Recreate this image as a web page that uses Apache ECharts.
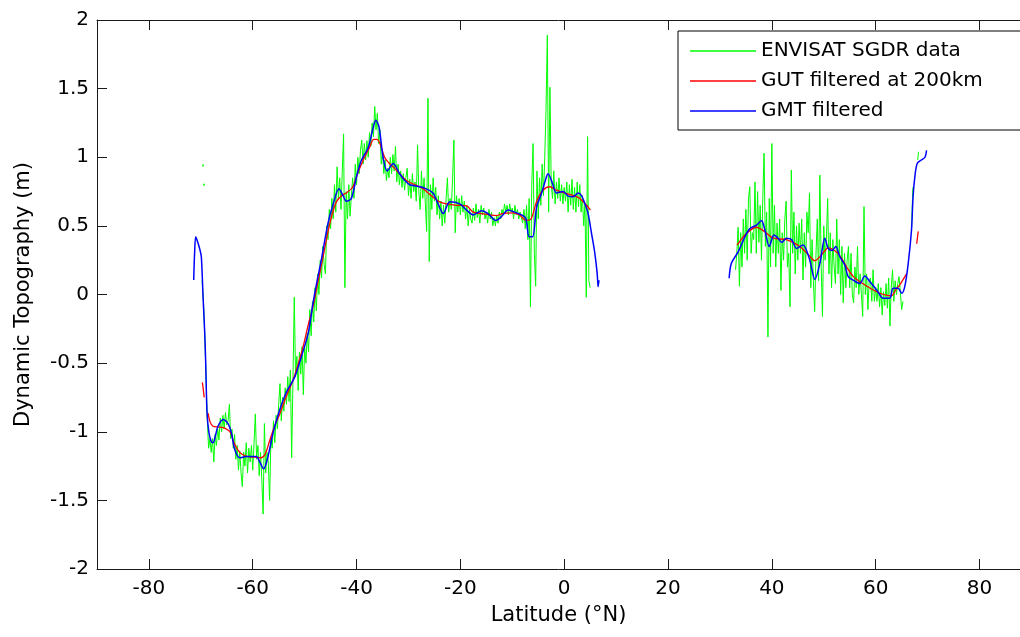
<!DOCTYPE html>
<html>
<head>
<meta charset="utf-8">
<script src="https://cdn.jsdelivr.net/npm/echarts@6/dist/echarts.min.js"></script>
<style>html,body{margin:0;padding:0;background:#fff}#c{width:1020px;height:637px}</style>
</head>
<body>
<div id="c"></div>
<script>
// ---------- data ----------
const xTicks = [-80, -60, -40, -20, 0, 20, 40, 60, 80];
const yTicks = [-2, -1.5, -1, -0.5, 0, 0.5, 1, 1.5, 2];
const xMin = -90;
const xMaxVisible = 87.8; // the reference picture is cut at its right edge

// ENVISAT SGDR data, southern arc: latitude starts at -70, 0.25 deg spacing (4 values per degree)
const greenSouthStart = -70;
const greenSouth = [
  null, 0.10, -0.05, -0.28,     // -70
  -0.60, -0.92, -1.12, -1.05,   // -69
  -1.15, -1.05, -1.22, -1.02,   // -68
  -1.10, -0.98, -1.06, -0.90,   // -67
  -1.00, -0.88, -0.98, -0.86,   // -66
  -0.95, -0.92, -0.80, -1.05,   // -65
  -0.98, -1.12, -1.02, -1.20,   // -64
  -1.10, -1.28, -1.14, -1.30,   // -63
  -1.40, -1.15, -1.25, -1.08,   // -62
  -1.30, -1.12, -1.22, -1.10,   // -61
  -1.28, -1.08, -0.87, -1.20,   // -60
  -1.10, -1.32, -1.15, -1.35,   // -59
  -1.60, -0.94, -1.30, -1.15,   // -58
  -1.22, -1.50, -1.05, -1.12,   // -57
  -0.92, -1.08, -0.88, -0.98,   // -56
  -0.80, -0.65, -0.92, -0.75,   // -55
  -0.85, -0.68, -0.80, -0.60,   // -54
  -0.78, -0.55, -1.19, -0.62,   // -53
  -0.02, -0.60, -0.45, -0.70,   // -52
  -0.42, -0.58, -0.38, -0.73,   // -51
  -0.38, -0.50, -0.28, -0.42,   // -50
  -0.11, -0.30, -0.05, -0.20,   // -49
  0.05, -0.12, 0.15, 0.00,      // -48
  0.25, 0.12, 0.35, 0.22,       // -47
  0.15, 0.50, 0.40, 0.62,       // -46
  0.48, 0.70, 0.55, 0.80,       // -45
  0.60, 0.93, 0.70, 0.85,       // -44
  0.62, 0.90, 1.17, 0.05,       // -43
  0.75, 0.55, 0.80, 0.57,       // -42
  0.72, 0.85, 0.70, 0.95,       // -41
  0.80, 1.00, 0.88, 1.05,       // -40
  1.125, 0.95, 1.10, 0.98,      // -39
  1.12, 1.00, 1.18, 1.08,       // -38
  1.25, 1.15, 1.37, 1.20,       // -37
  1.32, 1.10, 1.20, 0.95,       // -36
  1.05, 0.88, 0.98, 0.83,       // -35
  0.92, 0.85, 1.00, 0.88,       // -34
  1.02, 0.90, 1.08, 0.82,       // -33
  0.95, 0.80, 0.90, 0.78,       // -32
  0.88, 0.76, 0.85, 0.92,       // -31
  0.72, 0.84, 0.70, 0.88,       // -30
  0.75, 0.82, 0.68, 1.09,       // -29
  0.75, 0.62, 0.90, 0.70,       // -28
  0.85, 0.66, 0.46, 1.43,       // -27
  0.24, 0.80, 0.62, 0.85,       // -26
  0.68, 0.78, 0.58, 0.72,       // -25
  0.55, 0.68, 0.50, 0.65,       // -24
  0.52, 0.70, 0.85, 0.60,       // -23
  0.70, 0.62, 0.85, 1.125,      // -22
  0.45, 0.72, 0.60, 0.70,       // -21
  0.58, 0.72, 0.60, 0.68,       // -20
  0.55, 0.65, 0.50, 0.62,       // -19
  0.55, 0.52, 0.63, 0.54,       // -18
  0.66, 0.56, 0.62, 0.52,       // -17
  0.65, 0.58, 0.63, 0.55,       // -16
  0.60, 0.52, 0.62, 0.55,       // -15
  0.60, 0.50, 0.56, 0.50,       // -14
  0.58, 0.52, 0.60, 0.55,       // -13
  0.62, 0.58, 0.66, 0.60,       // -12
  0.65, 0.58, 0.66, 0.60,       // -11
  0.63, 0.55, 0.65, 0.58,       // -10
  0.62, 0.55, 0.60, 0.56,       // -9
  0.52, 0.62, 0.48, 0.65,       // -8
  0.40, 0.70, -0.09, 0.80,      // -7
  1.10, 0.30, 0.06, 0.90,       // -6
  0.55, 0.85, 0.65, 0.95,       // -5
  0.72, 1.00, 1.35, 1.89,       // -4
  0.60, 1.51, 0.80, 0.70,       // -3
  0.90, 0.66, 0.82, 0.70,       // -2
  0.85, 0.68, 0.80, 0.66,       // -1
  0.78, 0.68, 0.82, 0.60,       // 0
  0.80, 0.65, 0.84, 0.62,       // 1
  0.78, 0.60, 0.82, 0.64,       // 2
  0.80, 0.60, 0.72, 0.50,       // 3
  0.66, -0.02, 1.15, 0.10,      // 4
  0.05                          // 5
];

// ENVISAT SGDR data, northern arc: latitude starts at 33, 0.25 deg spacing
const greenNorthStart = 33;
const greenNorth = [
  0.18, 0.30, 0.49, 0.06,       // 33
  0.45, 0.20, 0.55, 0.30,       // 34
  0.62, 0.25, 0.70, 0.785,      // 35
  0.30, 0.45, 0.40, 0.82,       // 36
  0.30, 0.75, 0.38, 0.65,       // 37
  0.25, 0.70, 1.03, 0.35,       // 38
  0.60, -0.31, 0.70, 0.20,      // 39
  1.10, 0.30, 0.65, 0.20,       // 40
  0.52, 0.30, 0.55, 0.03,       // 41
  0.45, 0.25, 0.55, 0.68,       // 42
  0.20, 0.30, -0.09, 0.906,     // 43
  0.30, 0.60, 0.15, 0.50,       // 44
  0.25, 0.52, 0.30, 0.55,       // 45
  0.105, 0.45, 0.20, 0.60,      // 46
  0.45, 0.74, 0.05, 0.40,       // 47
  0.10, -0.125, 0.30, 0.55,     // 48
  0.10, 0.87, 0.20, -0.16,      // 49
  0.50, 0.25, 0.40, 0.70,       // 50
  0.15, 0.45, 0.05, 0.40,       // 51
  0.20, 0.08, 0.55, 0.15,       // 52
  0.40, 0.00, 0.35, -0.06,      // 53
  0.30, 0.05, 0.25, 0.35,       // 54
  0.05, 0.30, 0.00, -0.06,      // 55
  0.20, 0.05, 0.35, 0.00,       // 56
  0.15, 0.00, -0.16, 0.64,      // 57
  0.00, 0.15, -0.11, 0.10,      // 58
  0.12, -0.05, 0.18, -0.05,     // 59
  0.05, -0.05, 0.08, -0.09,     // 60
  0.05, -0.15, 0.02, -0.08,     // 61
  0.08, -0.10, 0.12, -0.23,     // 62
  0.05, 0.18, -0.05, 0.10,      // 63
  0.00, 0.08, 0.13, 0.02,       // 64
  -0.11, -0.05                  // 65
];

// short ENVISAT fragments on the northern rise
const greenFragmentLat = [66.9, 67.15, null, 68.1, 68.25];
const greenFragmentVal = [0.47, 0.78, null, 0.98, 1.04];
// isolated ENVISAT points near -69.5
const greenDotLat = [-69.57, -69.4];
const greenDotVal = [0.94, 0.80];

// GUT filtered at 200 km
const redSouthLat = [-68.6, -68.2, -67.65, -66.7, -65.7, -64.4, -63.5, -62.5, -61.2, -59.5, -58.65, -57.7, -56.7, -55.7, -54.8, -53.5, -52.2, -51.2, -50.3, -49.3, -48.4, -47.4, -46.45, -45.6, -44.8, -43.9, -42.9, -41.95, -40.7, -39.9, -39.05, -38.2, -37.45, -36.7, -36.1, -35.5, -34.6, -33.8, -32.96, -31.7, -30.4, -28.8, -27.2, -25.6, -24.0, -22.6, -20.7, -18.8, -17.55, -16.0, -14.4, -13.0, -11.9, -10.0, -8.6, -7.4, -6.4, -5.3, -4.1, -2.78, -1.5, 0.44, 1.8, 3.0, 4.3, 5.06];
const redSouthVal = [-0.865, -0.93, -0.96, -0.965, -0.97, -1.0, -1.09, -1.15, -1.18, -1.185, -1.19, -1.17, -1.06, -0.95, -0.87, -0.74, -0.62, -0.5, -0.38, -0.22, -0.09, 0.1, 0.275, 0.44, 0.57, 0.675, 0.72, 0.74, 0.785, 0.87, 0.95, 1.02, 1.076, 1.13, 1.13, 1.10, 1.0, 0.96, 0.93, 0.88, 0.83, 0.80, 0.77, 0.72, 0.675, 0.66, 0.65, 0.645, 0.60, 0.59, 0.58, 0.575, 0.59, 0.595, 0.58, 0.54, 0.55, 0.68, 0.76, 0.785, 0.76, 0.735, 0.72, 0.70, 0.65, 0.615];
const redNorthLat = [33.3, 35.1, 37.05, 38.65, 40.25, 42.8, 45.4, 47.0, 48.3, 49.6, 50.85, 52.45, 53.5, 54.4, 55.7, 57.5, 59.2, 60.8, 62.0, 63.0, 63.9, 64.8, 65.95];
const redNorthVal = [0.36, 0.445, 0.49, 0.457, 0.41, 0.40, 0.35, 0.29, 0.246, 0.29, 0.34, 0.31, 0.26, 0.20, 0.13, 0.08, 0.04, 0.009, -0.005, -0.01, 0.035, 0.08, 0.15];
const redFragmentLat = [-69.7, -69.5, -69.35, null, 67.9, 68.2];
const redFragmentVal = [-0.64, -0.70, -0.75, null, 0.37, 0.46];

// GMT filtered
const blueSouthLat = [-71.37, -71.2, -70.98, -70.54, -70.2, -69.9, -69.57, -69.25, -69.06, -68.8, -68.42, -68.0, -67.65, -67.2, -66.7, -65.7, -64.76, -64.1, -63.47, -62.5, -61.2, -60.2, -59.3, -58.65, -57.9, -57.25, -56.6, -56.1, -54.8, -53.5, -51.9, -50.6, -49.3, -48.4, -47.7, -46.8, -45.5, -44.5, -43.4, -42.6, -41.95, -41.0, -40.0, -39.05, -37.8, -36.9, -36.3, -35.66, -34.9, -34.1, -33.5, -32.96, -31.7, -30.7, -29.75, -28.5, -27.2, -25.3, -24.3, -23.3, -22.04, -20.1, -18.8, -17.55, -15.9, -14.66, -13.2, -12.1, -10.8, -9.52, -8.23, -7.4, -6.76, -6.1, -5.3, -4.37, -3.4, -3.1, -2.26, -1.5, -0.2, 0.75, 1.7, 2.7, 3.33, 4.1, 4.6, 5.26, 5.9, 6.35, 6.53, 6.7];
const blueSouthVal = [0.105, 0.30, 0.42, 0.375, 0.33, 0.275, -0.016, -0.28, -0.5, -0.865, -1.01, -1.07, -1.08, -1.03, -0.96, -0.91, -0.94, -1.01, -1.13, -1.19, -1.18, -1.18, -1.18, -1.22, -1.27, -1.21, -1.1, -1.01, -0.84, -0.71, -0.6, -0.45, -0.28, -0.064, 0.08, 0.25, 0.52, 0.66, 0.77, 0.72, 0.68, 0.70, 0.86, 0.98, 1.065, 1.2, 1.27, 1.22, 1.0, 0.90, 0.93, 0.955, 0.88, 0.83, 0.80, 0.79, 0.78, 0.74, 0.66, 0.59, 0.676, 0.66, 0.615, 0.58, 0.61, 0.59, 0.54, 0.567, 0.615, 0.60, 0.58, 0.555, 0.42, 0.42, 0.64, 0.737, 0.86, 0.88, 0.81, 0.74, 0.75, 0.717, 0.712, 0.74, 0.72, 0.65, 0.59, 0.446, 0.30, 0.154, 0.057, 0.105];
const blueNorthLat = [31.77, 32.2, 33.5, 34.8, 35.76, 37.05, 38.0, 38.65, 39.5, 40.4, 41.2, 41.9, 42.8, 43.8, 44.75, 46.0, 47.2, 48.3, 49.25, 50.2, 50.85, 51.6, 52.3, 53.1, 54.06, 54.7, 55.66, 56.95, 57.9, 58.9, 60.2, 61.45, 62.7, 63.37, 64.3, 65.0, 65.6, 66.27, 66.9, 67.2, 67.55, 68.0, 68.8, 69.5, 69.8];
const blueNorthVal = [0.118, 0.227, 0.31, 0.42, 0.48, 0.506, 0.54, 0.47, 0.35, 0.433, 0.41, 0.38, 0.41, 0.40, 0.336, 0.36, 0.264, 0.11, 0.227, 0.41, 0.336, 0.32, 0.35, 0.275, 0.215, 0.13, 0.105, 0.08, 0.135, 0.093, 0.033, -0.028, -0.028, 0.045, 0.045, 0.009, 0.057, 0.227, 0.47, 0.71, 0.86, 0.955, 0.98, 1.0, 1.05];

// ---------- build series data ----------
const GAP = null;
function fromGrid(start, vals) {
  return vals.map((v, i) => [start + i * 0.25, v === null ? GAP : v]);
}
function fromPairs(lats, vals) {
  return lats.map((x, i) => (x === null ? [null, GAP] : [x, vals[i]]));
}
function joinSegments(segs) {
  const out = [];
  segs.forEach((s, k) => {
    if (k > 0) out.push([null, GAP]);
    s.forEach(p => out.push(p));
  });
  return out;
}

const greenData = joinSegments([
  fromGrid(greenSouthStart, greenSouth),
  fromGrid(greenNorthStart, greenNorth),
  fromPairs(greenFragmentLat, greenFragmentVal)
]);
const greenDots = fromPairs(greenDotLat, greenDotVal);
const redData = joinSegments([
  fromPairs(redSouthLat, redSouthVal),
  fromPairs(redNorthLat, redNorthVal),
  fromPairs(redFragmentLat, redFragmentVal)
]);
const blueData = joinSegments([
  fromPairs(blueSouthLat, blueSouthVal),
  fromPairs(blueNorthLat, blueNorthVal)
]);

// ---------- chart ----------
const FONT = 'DejaVu Sans';
const AX = '#1a1a1a';
const chart = echarts.init(document.getElementById('c'), null, { renderer: 'canvas' });

const tickStyle = { inside: true, length: 10, lineStyle: { color: AX, width: 1 } };

chart.setOption({
  animation: false,
  backgroundColor: '#fff',
  grid: { left: 97, top: 20, right: 0, height: 549, containLabel: false },
  xAxis: [
    {
      type: 'value', min: xMin, max: xMaxVisible, position: 'bottom',
      name: 'Latitude (°N)', nameLocation: 'middle', nameGap: 36,
      nameTextStyle: { fontFamily: FONT, fontSize: 21, color: '#000' },
      axisLine: { show: true, onZero: false, lineStyle: { color: AX, width: 1 } },
      axisTick: Object.assign({ customValues: xTicks }, tickStyle),
      axisLabel: { customValues: xTicks, margin: 10, fontFamily: FONT, fontSize: 20, color: '#000' },
      splitLine: { show: false }
    },
    {
      type: 'value', min: xMin, max: xMaxVisible, position: 'top',
      axisLine: { show: true, onZero: false, lineStyle: { color: AX, width: 1 } },
      axisTick: Object.assign({ customValues: xTicks }, tickStyle),
      axisLabel: { show: false },
      splitLine: { show: false }
    }
  ],
  yAxis: [
    {
      type: 'value', min: -2, max: 2, interval: 0.5, position: 'left',
      name: 'Dynamic Topography (m)', nameLocation: 'middle', nameGap: 63, nameRotate: 90,
      nameTextStyle: { fontFamily: FONT, fontSize: 21, color: '#000' },
      axisLine: { show: true, onZero: false, lineStyle: { color: AX, width: 1 } },
      axisTick: Object.assign({ customValues: yTicks }, tickStyle),
      axisLabel: { customValues: yTicks, margin: 8, fontFamily: FONT, fontSize: 20, color: '#000' },
      splitLine: { show: false }
    }
  ],
  legend: {
    data: ['ENVISAT SGDR data', 'GUT filtered at 200km', 'GMT filtered'],
    orient: 'vertical', left: 678, top: 31,
    padding: [10, 90, 9, 12],
    icon: 'rect',
    itemWidth: 66, itemHeight: 1.5, itemGap: 10,
    borderColor: '#000', borderWidth: 1, backgroundColor: '#fff',
    textStyle: { fontFamily: FONT, fontSize: 20, color: '#000', lineHeight: 20 }
  },
  series: [
    {
      name: 'ENVISAT SGDR data', type: 'line', data: greenData,
      symbol: 'none', showSymbol: false, connectNulls: false,
      lineStyle: { color: '#00ff00', width: 1 }, itemStyle: { color: '#00ff00' }
    },
    {
      name: 'envisat points', type: 'scatter', data: greenDots,
      symbol: 'rect', symbolSize: 2, itemStyle: { color: '#00ff00' }
    },
    {
      name: 'GUT filtered at 200km', type: 'line', data: redData,
      symbol: 'none', showSymbol: false, connectNulls: false, smooth: 0.3,
      lineStyle: { color: '#ff0000', width: 1.3 }, itemStyle: { color: '#ff0000' }
    },
    {
      name: 'GMT filtered', type: 'line', data: blueData,
      symbol: 'none', showSymbol: false, connectNulls: false, smooth: 0.3,
      lineStyle: { color: '#0000ff', width: 1.5 }, itemStyle: { color: '#0000ff' }
    }
  ]
});
</script>
</body>
</html>
